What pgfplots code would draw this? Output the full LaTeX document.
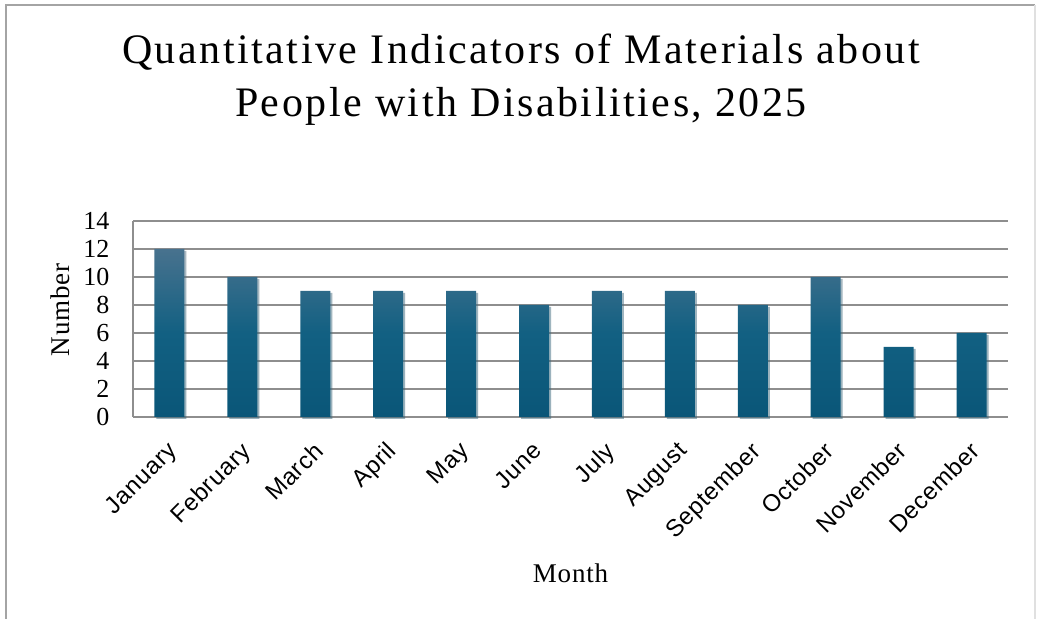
\documentclass[border=0pt]{standalone}
\usepackage{fontspec}
\setmainfont{Liberation Serif}
\newfontfamily\arialfont{Liberation Sans}
\usepackage{pgfplots}
\pgfplotsset{compat=1.18}
\usetikzlibrary{shadows}

\definecolor{gridgray}{RGB}{142,142,142}
\definecolor{bartop}{RGB}{72,114,142}
\definecolor{barmid}{RGB}{18,96,130}
\definecolor{barbot}{RGB}{10,86,120}

\pgfplotstableread{
x value
0 12
1 10
2 9
3 9
4 9
5 8
6 9
7 9
8 8
9 10
10 5
11 6
}\monthdata

\begin{document}
\begin{tikzpicture}[x=1pt,y=1pt]
\path (0,0) rectangle (1038,619);
\draw[gridgray!80, line width=2.5pt] (6,0) -- (6,614) -- (1035,614);
\draw[black!12, line width=1.2pt] (1035,614) -- (1035,0);
\begin{axis}[
    at={(133pt,202pt)}, anchor=south west,
    scale only axis,
    width=875pt, height=196pt,
    xmin=-0.5, xmax=11.5,
    ymin=0, ymax=14,
    ytick={0,2,...,14},
    xtick=data,
    xticklabels={January,February,March,April,May,June,July,August,September,October,November,December},
    axis x line*=bottom, axis y line*=left,
    axis line style={gridgray, line width=2.5pt, -},
    ymajorgrids,
    grid style={gridgray, line width=2.5pt},
    major tick length=0pt,
    /pgf/number format/assume math mode=true,
    yticklabel style={font=\fontsize{26}{26}\selectfont, anchor=east, xshift=-20pt},
    xticklabel style={font=\arialfont\addfontfeature{LetterSpace=3}\fontsize{24}{24}\selectfont, xshift=-3pt, yshift=-23pt, rotate=45, anchor=north east, inner sep=0pt},
    title={Quantitative Indicators of Materials about\\People with Disabilities, 2025},
    title style={font=\addfontfeature{LetterSpace=6}\fontsize{42}{53}\selectfont, align=center, anchor=center, at={(axis description cs:0.4434,1.69)}},
    ylabel={Number},
    ylabel style={font=\addfontfeature{LetterSpace=3}\fontsize{27}{27}\selectfont, rotate=0, anchor=center, at={(axis description cs:-0.0834,0.546)}},
    xlabel={Month},
    xlabel style={font=\addfontfeature{LetterSpace=3}\fontsize{27}{27}\selectfont, anchor=center, at={(axis description cs:0.5,-0.796)}},
    clip=false,
]
\addplot[ybar, bar width=30pt, draw=none, top color=bartop, bottom color=barbot, middle color=barmid,
    drop shadow={opacity=0.3, shadow xshift=2pt, shadow yshift=-2pt}]
    table[x=x, y=value] {\monthdata};
\end{axis}
\end{tikzpicture}
\end{document}
